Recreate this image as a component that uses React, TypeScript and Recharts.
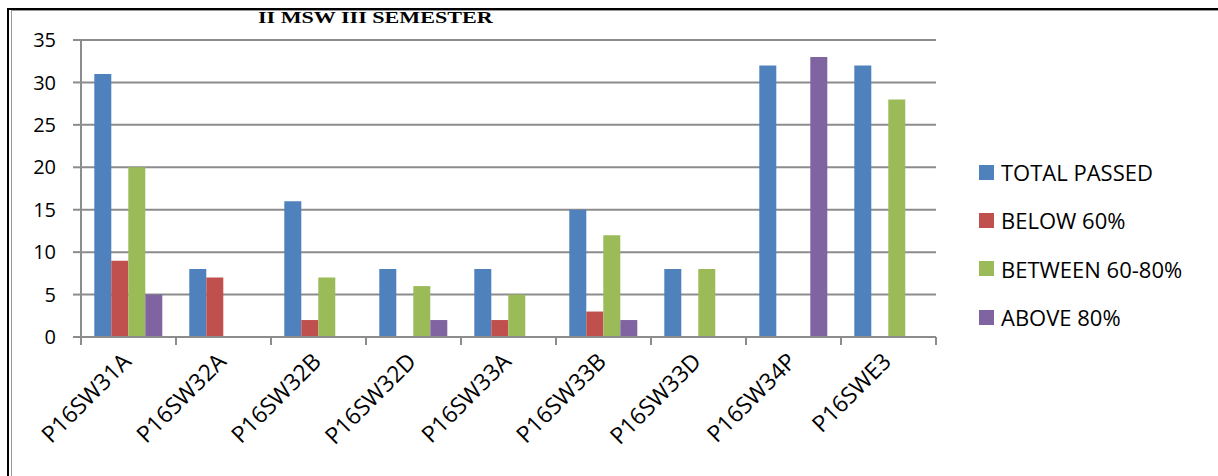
import React from "react";
import { BarChart, Bar, XAxis, YAxis, CartesianGrid } from "recharts";

const courses = [
  "P16SW31A",
  "P16SW32A",
  "P16SW32B",
  "P16SW32D",
  "P16SW33A",
  "P16SW33B",
  "P16SW33D",
  "P16SW34P",
  "P16SWE3",
];
const totalPassed = [31, 8, 16, 8, 8, 15, 8, 32, 32];
const below60 = [9, 7, 2, 0, 2, 3, 0, 0, 0];
const between60to80 = [20, 0, 7, 6, 5, 12, 8, 0, 28];
const above80 = [5, 0, 0, 2, 0, 2, 0, 33, 0];
const yTicks = [0, 5, 10, 15, 20, 25, 30, 35];

const SERIES = [
  { key: "total", name: "TOTAL PASSED", color: "#4F81BD" },
  { key: "below", name: "BELOW 60%", color: "#C0504D" },
  { key: "between", name: "BETWEEN 60-80%", color: "#9BBB59" },
  { key: "above", name: "ABOVE 80%", color: "#8064A2" },
];

const data = courses.map((c, i) => ({
  course: c,
  total: totalPassed[i],
  below: below60[i],
  between: between60to80[i],
  above: above80[i],
}));

const W = 1218;
const H = 476;
const PLOT_LEFT = 81;
const PLOT_RIGHT = 936;
const PLOT_TOP = 40;
const PLOT_BOTTOM = 337;
const BAND = (PLOT_RIGHT - PLOT_LEFT) / courses.length;
const FONT = "'Open Sans', sans-serif";
const GRID = "#8c8c8c";

function CourseTick(props: any) {
  const { x, y, payload, index } = props;
  const axisY = y - 12;
  const tx = x + 4;
  const ty = y + 14;
  return (
    <g>
      <line x1={x - BAND / 2} x2={x - BAND / 2} y1={axisY} y2={axisY + 8} stroke={GRID} strokeWidth={2} />
      {index === courses.length - 1 && (
        <line x1={x + BAND / 2} x2={x + BAND / 2} y1={axisY} y2={axisY + 8} stroke={GRID} strokeWidth={2} />
      )}
      <text
        x={0}
        y={0}
        transform={`translate(${tx}, ${ty}) rotate(-45)`}
        textAnchor="end"
        fontSize={23}
        fontFamily={FONT}
        fill="#000"
      >
        {payload.value}
      </text>
    </g>
  );
}

function LegendBox() {
  return (
    <div
      style={{
        position: "absolute",
        left: 979,
        top: 148,
        fontFamily: FONT,
        fontSize: 22,
        color: "#000",
      }}
    >
      {SERIES.map((s) => (
        <div key={s.key} style={{ display: "flex", alignItems: "center", height: 48.3 }}>
          <span style={{ width: 15, height: 15, background: s.color, marginRight: 7, flex: "none" }} />
          <span style={{ whiteSpace: "nowrap" }}>{s.name}</span>
        </div>
      ))}
    </div>
  );
}

export default function App() {
  return (
    <div style={{ position: "absolute", left: 0, top: 0, width: W, height: H, background: "#fff", overflow: "hidden" }}>
      <div
        style={{
          position: "absolute",
          left: 7,
          top: 8,
          width: W - 7,
          height: H - 8,
          borderLeft: "2px solid #000",
          borderTop: "2px solid #000",
        }}
      />
      <div
        style={{
          position: "absolute",
          left: 11,
          top: 10,
          width: W - 11,
          height: H - 10,
          borderLeft: "1px solid #999",
          borderTop: "1px solid #999",
        }}
      />
      <div
        style={{
          position: "absolute",
          left: 258,
          top: 9,
          fontFamily: "'Liberation Serif', serif",
          fontWeight: "bold",
          fontSize: 16,
          color: "#000",
          whiteSpace: "nowrap",
          transform: "scaleX(1.38)",
          transformOrigin: "left top",
        }}
      >
        II MSW III SEMESTER
      </div>
      <div style={{ position: "absolute", left: 0, top: 0 }}>
        <BarChart
          width={W}
          height={H}
          data={data}
          margin={{ top: PLOT_TOP, right: W - PLOT_RIGHT, bottom: 0, left: 0 }}
          barCategoryGap="14%"
          barGap={0}
        >
          <CartesianGrid vertical={false} stroke={GRID} strokeWidth={2} />
          <XAxis
            dataKey="course"
            height={H - PLOT_BOTTOM}
            axisLine={{ stroke: GRID, strokeWidth: 2 }}
            tickLine={false}
            tickSize={8}
            tickMargin={4}
            interval={0}
            tick={<CourseTick />}
          />
          <YAxis
            width={PLOT_LEFT}
            domain={[0, 35]}
            ticks={yTicks}
            axisLine={{ stroke: GRID, strokeWidth: 2 }}
            tickLine={{ stroke: GRID, strokeWidth: 2 }}
            tickSize={8}
            tickMargin={17}
            tick={{ fontSize: 20, fontFamily: FONT, fill: "#000" }}
          />
          {SERIES.map((s) => (
            <Bar key={s.key} dataKey={s.key} name={s.name} fill={s.color} isAnimationActive={false} />
          ))}
        </BarChart>
      </div>
      <LegendBox />
    </div>
  );
}
